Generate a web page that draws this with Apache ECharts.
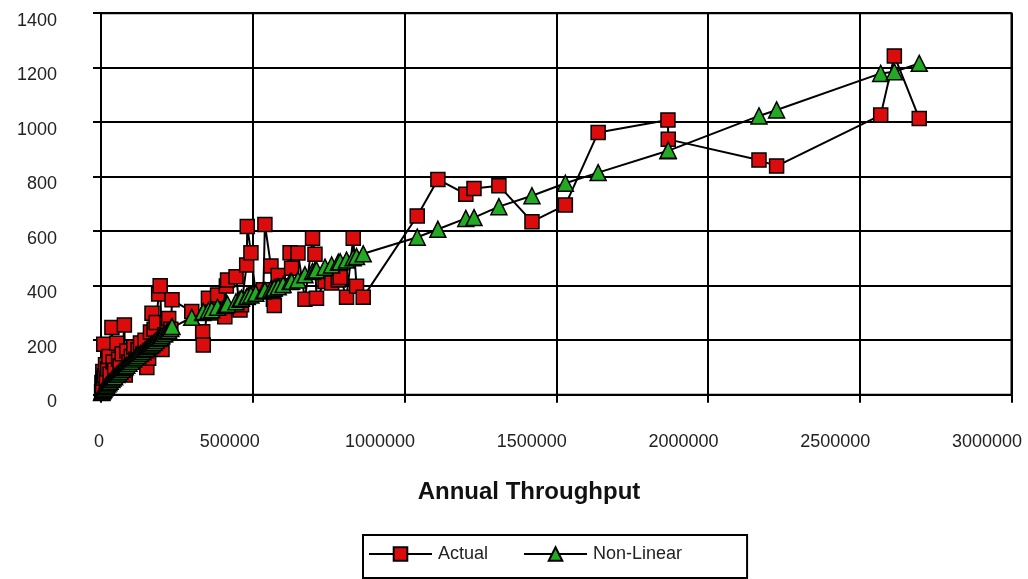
<!DOCTYPE html>
<html>
<head>
<meta charset="utf-8">
<script src="https://cdn.jsdelivr.net/npm/echarts@6/dist/echarts.min.js"></script>
<style>
html,body{margin:0;padding:0;background:#fff;}
#chart{width:1028px;height:579px;}
</style>
</head>
<body>
<div id="chart"></div>
<script>
// Annual throughput (x) shared by both series
const throughput = [
  2000, 3000, 5000, 6000, 8000, 9000, 12000, 15000, 18000, 22000,
  26000, 30000, 36000, 40000, 45000, 52000, 58000, 63000, 70000, 77000,
  80000, 85000, 92000, 100000, 108000, 115000, 122000, 130000, 138000, 145000,
  151000, 157000, 163000, 168000, 175000, 182000, 190000, 195000, 201000, 210000,
  218000, 223000, 230000, 234000,
  299000, 335000, 337000, 354000, 365000, 384000, 408000, 413000, 417000, 445000,
  458000, 463000, 480000, 482000, 494000, 510000, 535000, 540000, 560000, 568000,
  571000, 584000, 600000, 623000, 628000, 649000, 672000, 697000, 705000, 710000,
  738000, 760000, 782000, 788000, 809000, 831000, 842000, 864000,
  1042000, 1110000, 1202000, 1229000, 1311000, 1420000, 1530000, 1638000, 1868000, 1869000,
  2168000, 2226000, 2569000, 2614000, 2696000
];
const actual = [
  12, 45, 30, 85, 60, 185, 70, 110, 50, 95,
  140, 75, 247, 120, 90, 189, 130, 105, 150, 256,
  72, 160, 120, 140, 175, 130, 165, 190, 150, 200,
  100, 134, 230, 299, 240, 265, 370, 400, 166, 220,
  260, 280, 240, 348,
  305, 231, 182, 354, 300, 366, 286, 399, 421, 433,
  311, 330, 476, 617, 521, 370, 385, 625, 472, 350,
  327, 437, 400, 521, 464, 520, 350, 574, 515, 354,
  415, 410, 421, 430, 358, 574, 398, 358,
  656, 790, 736, 757, 767, 635, 696, 962, 1008, 937,
  861, 839, 1026, 1243, 1014
];
const nonLinear = [
  8, 10, 14, 16, 19, 21, 25, 30, 34, 39,
  44, 49, 56, 61, 66, 74, 80, 86, 93, 100,
  103, 108, 115, 123, 131, 137, 144, 151, 158, 165,
  170, 176, 181, 186, 192, 199, 206, 210, 216, 224,
  231, 236, 243, 250,
  284, 302, 305, 309, 312, 321, 327, 330, 332, 341,
  350, 354, 360, 361, 366, 372, 381, 383, 387, 390,
  392, 396, 404, 415, 416, 421, 440, 452, 456, 458,
  468, 476, 486, 488, 494, 503, 507, 517,
  578, 607, 647, 650, 690, 730, 776, 815, 895, 897,
  1023, 1045, 1179, 1185, 1216
];
const xTicks = [0, 500000, 1000000, 1500000, 2000000, 2500000, 3000000];
const yTicks = [0, 200, 400, 600, 800, 1000, 1200, 1400];

const actualData = throughput.map((x, i) => [x, actual[i]]);
const nonLinearData = throughput.map((x, i) => [x, nonLinear[i]]);

const FONT = '"Liberation Sans", Arial, sans-serif';
const chart = echarts.init(document.getElementById('chart'), null, {renderer: 'canvas'});
chart.setOption({
  animation: false,
  backgroundColor: '#ffffff',
  title: {
    text: 'Annual Throughput',
    left: 524, top: 475, textAlign: 'center',
    textStyle: {fontFamily: FONT, fontSize: 24, fontWeight: 'bold', color: '#111'}
  },
  grid: {
    left: 101, right: 16.5, top: 13.2, bottom: 184.3,
    show: true, borderColor: '#000', borderWidth: 2, containLabel: false
  },
  legend: {
    left: 363, top: 535,
    data: ['Actual', 'Non-Linear'],
    itemWidth: 63, itemHeight: 17, itemGap: 35,
    padding: [10, 65, 15, 5],
    borderColor: '#000', borderWidth: 2,
    textStyle: {fontFamily: FONT, fontSize: 18, color: '#222', padding: [4, 0, 0, 1]}
  },
  xAxis: {
    type: 'value',
    min: xTicks[0], max: xTicks[xTicks.length - 1], interval: xTicks[1] - xTicks[0],
    axisLine: {show: true, lineStyle: {color: '#000', width: 2}},
    axisTick: {show: true, inside: false, length: 8, lineStyle: {color: '#000', width: 2}},
    splitLine: {show: true, lineStyle: {color: '#000', width: 2}},
    axisLabel: {
      margin: 38,
      fontFamily: FONT, fontSize: 18, color: '#222',
      formatter: v => { const s = String(v); return '{p' + s.length + '|' + s + '}'; },
      rich: {
        p1: {padding: [0, 4, 0, 0], fontFamily: FONT, fontSize: 18, color: '#222'},
        p6: {padding: [0, 46, 0, 0], fontFamily: FONT, fontSize: 18, color: '#222'},
        p7: {padding: [0, 49, 0, 0], fontFamily: FONT, fontSize: 18, color: '#222'}
      }
    }
  },
  yAxis: {
    type: 'value',
    min: yTicks[0], max: yTicks[yTicks.length - 1], interval: yTicks[1] - yTicks[0],
    axisLine: {show: true, lineStyle: {color: '#000', width: 2}},
    axisTick: {show: true, inside: false, length: 8, lineStyle: {color: '#000', width: 2}},
    splitLine: {show: true, lineStyle: {color: '#000', width: 2}},
    axisLabel: {
      margin: 44, verticalAlign: 'top', lineHeight: 15,
      fontFamily: FONT, fontSize: 18, color: '#222',
      formatter: v => String(v)
    }
  },
  series: [
    {
      name: 'Actual', type: 'line', data: actualData,
      symbol: 'rect', symbolSize: 14, showAllSymbol: true,
      lineStyle: {color: '#000', width: 2},
      itemStyle: {color: '#dd0c0c', borderColor: '#000', borderWidth: 1.5},
      emphasis: {disabled: true}
    },
    {
      name: 'Non-Linear', type: 'line', data: nonLinearData,
      symbol: 'triangle', symbolSize: 16, showAllSymbol: true,
      lineStyle: {color: '#000', width: 2},
      itemStyle: {color: '#22aa22', borderColor: '#000', borderWidth: 1.5},
      emphasis: {disabled: true}
    }
  ]
});
</script>
</body>
</html>
